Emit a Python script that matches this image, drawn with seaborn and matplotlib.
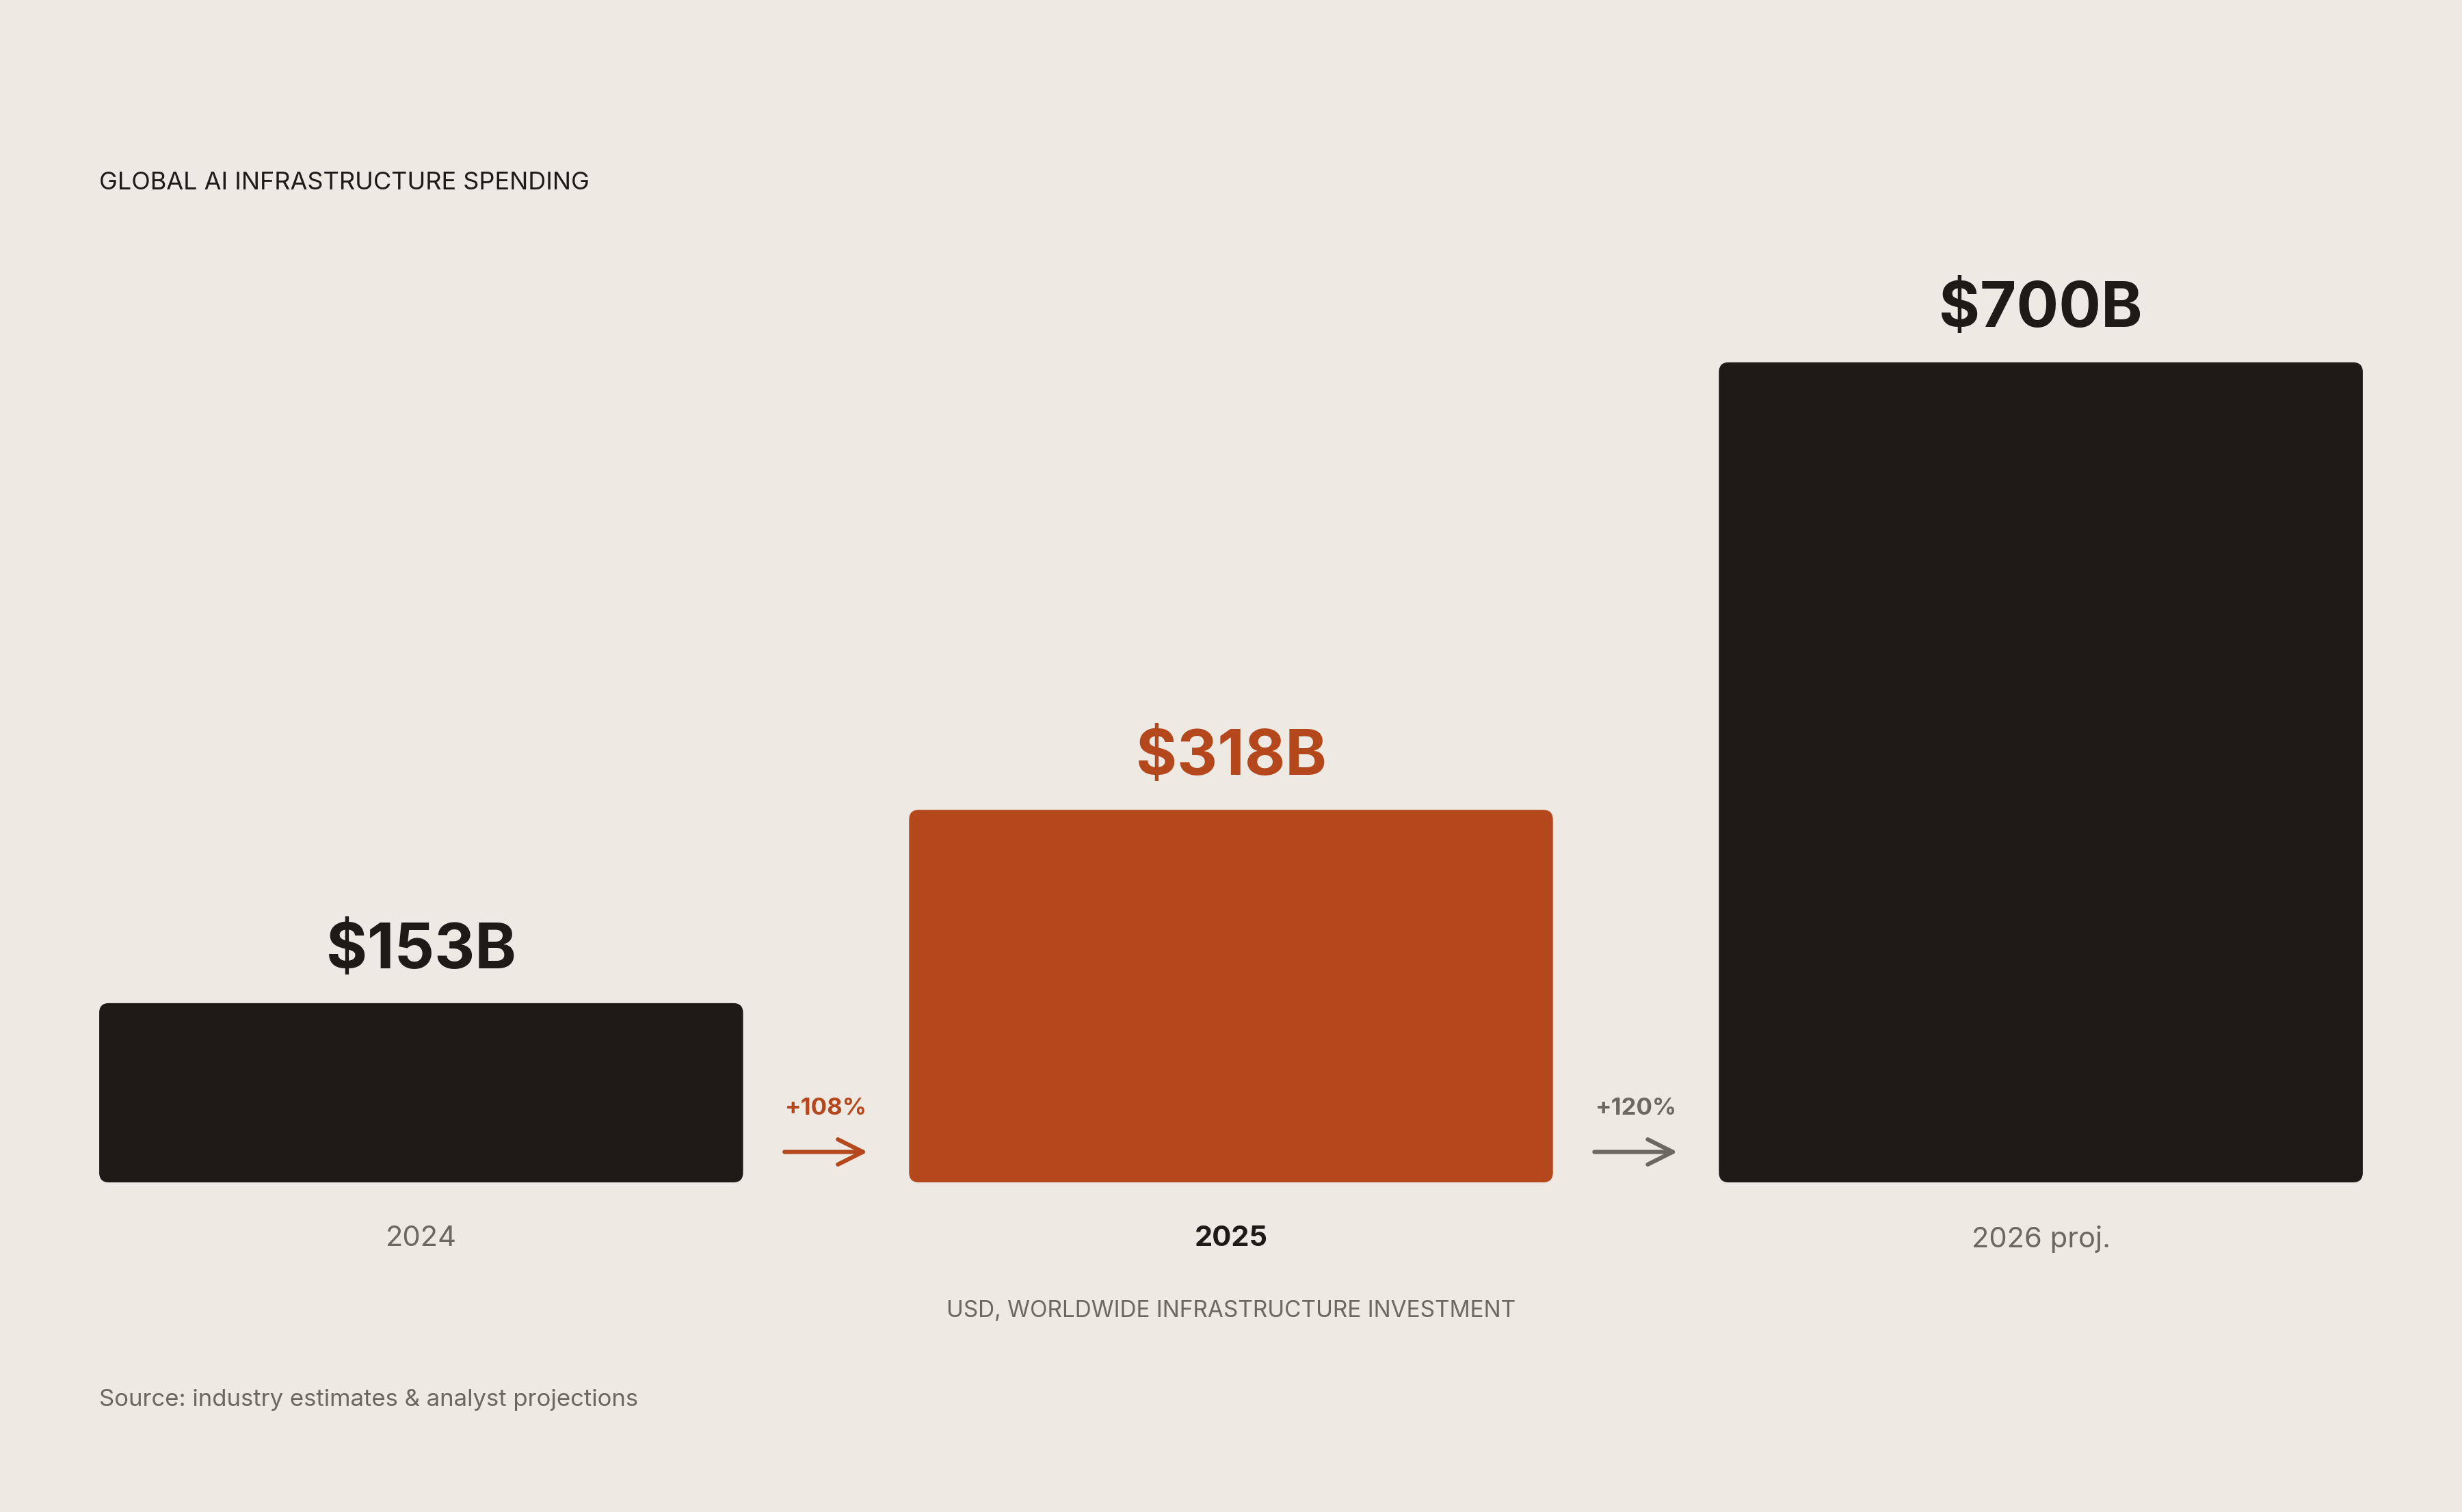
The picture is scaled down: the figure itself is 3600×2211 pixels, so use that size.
import numpy as np
import pandas as pd
import seaborn as sns
import matplotlib.pyplot as plt
from matplotlib.patches import FancyBboxPatch

# data
years = ['2024', '2025', '2026 proj.']
spend = [153, 318, 700]
value_labels = ['$153B', '$318B', '$700B']
growth_labels = ['+108%', '+120%']

BG = '#EEEAE3'
DARK = '#1E1B17'
ORANGE = '#B5471C'
GREY = '#6B6862'
bar_colors = [DARK, ORANGE, DARK]

sns.set_theme(style='white')
plt.rcParams['font.family'] = ['Inter', 'DejaVu Sans']

df = pd.DataFrame({'year': years, 'spend': spend})

fig = plt.figure(figsize=(18, 11.055), dpi=200, facecolor=BG)
ax = fig.add_axes([0.0403, 0.2180, 0.9194, 0.7748])
ax.set_facecolor(BG)

sns.barplot(data=df, x='year', y='spend', hue='year', palette=bar_colors,
            width=0.795, legend=False, ax=ax, saturation=1)

ax.set_xlim(-0.3975, 2.3975)
ax.set_ylim(0, 1000)

# swap the plain rectangles for rounded ones
for p, c in zip(list(ax.patches), bar_colors):
    x, y, w, h = p.get_x(), p.get_y(), p.get_width(), p.get_height()
    p.set_visible(False)
    ax.add_patch(FancyBboxPatch((x, y), w, h,
                                boxstyle='round,pad=0,rounding_size=0.012',
                                mutation_aspect=691, facecolor=c,
                                edgecolor='none'))

for i, (v, lab) in enumerate(zip(spend, value_labels)):
    col = ORANGE if i == 1 else DARK
    ax.text(i, v + 44, lab, ha='center', va='center', fontsize=33,
            fontweight='bold', color=col)

# growth arrows between bars
for i, lab in enumerate(growth_labels):
    col = ORANGE if i == 0 else GREY
    xc = i + 0.5
    ax.text(xc, 63, lab, ha='center', va='center', fontsize=12.5,
            fontweight='bold', color=col)
    ax.annotate('', xy=(xc + 0.056, 26), xytext=(xc - 0.056, 26),
                arrowprops=dict(arrowstyle='->,head_length=1.1,head_width=0.55',
                                color=col, lw=2.2))

ax.set_xlabel('')
ax.set_ylabel('')
ax.set_yticks([])
ax.tick_params(axis='x', length=0, pad=22.5, labelsize=15)
for i, t in enumerate(ax.get_xticklabels()):
    if i == 1:
        t.set_color(DARK)
        t.set_fontweight('bold')
    else:
        t.set_color(GREY)
sns.despine(ax=ax, left=True, bottom=True)

ax.text(1, -110, 'USD, WORLDWIDE INFRASTRUCTURE INVESTMENT', ha='center',
        va='center', fontsize=12, color=GREY)

fig.text(0.0403, 0.879, 'GLOBAL AI INFRASTRUCTURE SPENDING', ha='left',
         va='center', fontsize=13, color=DARK)
fig.text(0.0403, 0.074, 'Source: industry estimates & analyst projections',
         ha='left', va='center', fontsize=12.5, color=GREY)

fig.savefig('out.png', dpi=200, facecolor=BG)
